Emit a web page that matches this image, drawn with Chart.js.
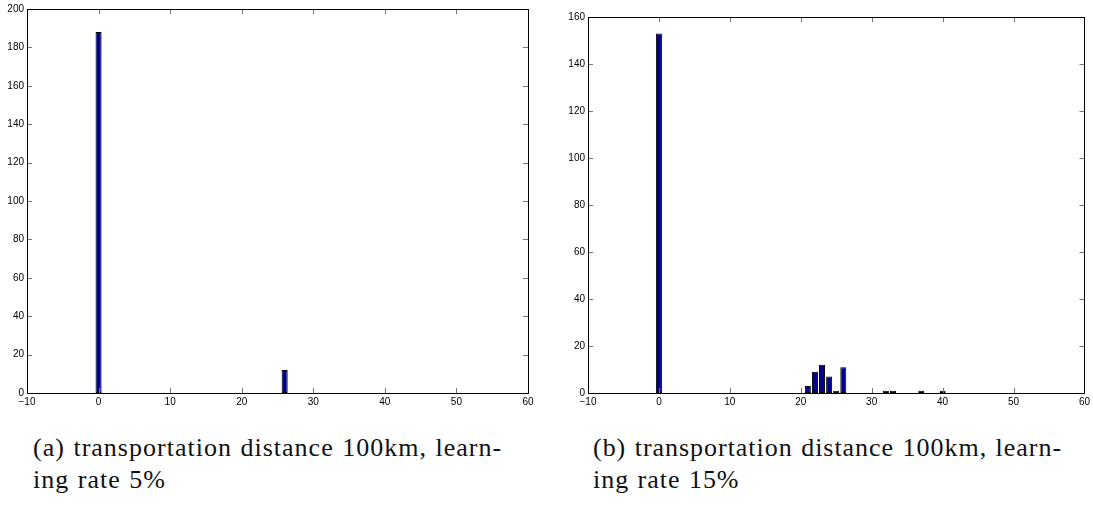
<!DOCTYPE html>
<html lang="en">
<head>
  <meta charset="UTF-8">
  <title>Histogramas</title>
  <script src="https://cdn.jsdelivr.net/npm/chart.js"></script>
  <style>
    body { margin: 0; background: #fff; width: 1093px; height: 505px; overflow: hidden; position: relative; }
    .painel { position: absolute; top: 0; }
    .legenda {
      position: absolute;
      font-family: 'Liberation Serif', serif;
      font-size: 26px;
      line-height: 32px;
      word-spacing: 1px;
      color: #111;
      top: 432px;
      white-space: nowrap;
    }
  </style>
</head>
<body>
  <div class="painel" style="left:0; width:540px; height:412px;">
    <canvas id="histA" width="540" height="412"></canvas>
  </div>
  <div class="painel" style="left:560px; width:533px; height:412px;">
    <canvas id="histB" width="533" height="412"></canvas>
  </div>
  <div class="legenda" style="left:33px;"><span class="l1">(a) transportation distance 100km, learn-</span><br><span>ing rate 5%</span></div>
  <div class="legenda" style="left:593px;"><span class="l1">(b) transportation distance 100km, learn-</span><br><span>ing rate 15%</span></div>

<script>
  // bins 0..48 (centros), contagens
  const bins = [];
  for (let i = 0; i <= 48; i++) bins.push(i);

  const countsA = [188, 0, 0, 0, 0, 0, 0, 0, 0, 0,
                   0, 0, 0, 0, 0, 0, 0, 0, 0, 0,
                   0, 0, 0, 0, 0, 0, 12, 0, 0, 0,
                   0, 0, 0, 0, 0, 0, 0, 0, 0, 0,
                   0, 0, 0, 0, 0, 0, 0, 0, 0];

  const countsB = [153, 0, 0, 0, 0, 0, 0, 0, 0, 0,
                   0, 0, 0, 0, 0, 0, 0, 0, 0, 0,
                   0, 3, 9, 12, 7, 1, 11, 0, 0, 0,
                   0, 0, 1, 1, 0, 0, 0, 1, 0, 0,
                   1, 0, 0, 0, 0, 0, 0, 0, 0];

  const xTicks = [-10, 0, 10, 20, 30, 40, 50, 60];
  const yTicksA = [0, 20, 40, 60, 80, 100, 120, 140, 160, 180, 200];
  const yTicksB = [0, 20, 40, 60, 80, 100, 120, 140, 160];

  // ajusta o espaçamento da legenda para a largura do original (~468px)
  document.querySelectorAll('.legenda').forEach(el => {
    const l1 = el.querySelector('.l1');
    const w = l1.getBoundingClientRect().width;
    const n = l1.textContent.length - 1;
    el.style.letterSpacing = ((468 - w) / n).toFixed(2) + 'px';
  });

  // moldura e ticks para dentro, estilo matlab
  const molduraPlugin = {
    id: 'moldura',
    afterDraw(chart) {
      const ctx = chart.ctx;
      const a = chart.chartArea;
      const xs = chart.scales.x;
      const ys = chart.scales.y;
      const len = 5;
      ctx.save();
      ctx.strokeStyle = '#777';
      ctx.lineWidth = 1;
      ctx.beginPath();
      xs.ticks.forEach(t => {
        const px = Math.round(xs.getPixelForValue(t.value)) + 0.5;
        ctx.moveTo(px, a.bottom); ctx.lineTo(px, a.bottom - len);
        ctx.moveTo(px, a.top); ctx.lineTo(px, a.top + len);
      });
      ys.ticks.forEach(t => {
        const py = Math.round(ys.getPixelForValue(t.value)) + 0.5;
        ctx.moveTo(a.left, py); ctx.lineTo(a.left + len, py);
        ctx.moveTo(a.right, py); ctx.lineTo(a.right - len, py);
      });
      ctx.stroke();
      ctx.strokeStyle = '#000';
      ctx.strokeRect(Math.round(a.left) + 0.5, Math.round(a.top) + 0.5,
                     Math.round(a.right - a.left), Math.round(a.bottom - a.top));
      ctx.restore();
    }
  };

  function criarHistograma(id, counts, yTicks, pad, yWidth) {
    const ctx = document.getElementById(id).getContext('2d');
    return new Chart(ctx, {
      type: 'bar',
      data: {
        datasets: [{
          data: bins.map((b, i) => ({ x: b, y: counts[i] })),
          backgroundColor: '#00008f',
          borderColor: '#000',
          borderWidth: 1,
          borderSkipped: false,
          barPercentage: 0.85,
          categoryPercentage: 1.0
        }]
      },
      options: {
        responsive: false,
        animation: false,
        devicePixelRatio: 1,
        layout: { padding: pad },
        plugins: {
          legend: { display: false },
          tooltip: { enabled: false }
        },
        scales: {
          x: {
            type: 'linear',
            offset: false,
            min: xTicks[0],
            max: xTicks[xTicks.length - 1],
            grid: { display: false, offset: false, drawTicks: false, tickLength: 0 },
            border: { display: false },
            afterFit: s => { s.height = 19; },
            afterBuildTicks: s => { s.ticks = xTicks.map(v => ({ value: v })); },
            ticks: {
              padding: 3,
              autoSkip: false,
              maxRotation: 0,
              color: '#000',
              font: { family: 'Liberation Sans, Arial, sans-serif', size: 10 },
              callback: v => String(v).replace('-', '\u2212')
            }
          },
          y: {
            min: yTicks[0],
            max: yTicks[yTicks.length - 1],
            grid: { display: false, drawTicks: false, tickLength: 0 },
            border: { display: false },
            afterFit: s => { s.width = yWidth; },
            afterBuildTicks: s => { s.ticks = yTicks.map(v => ({ value: v })); },
            ticks: {
              padding: 3,
              autoSkip: false,
              color: '#000',
              font: { family: 'Liberation Sans, Arial, sans-serif', size: 10 }
            }
          }
        }
      },
      plugins: [molduraPlugin]
    });
  }

  criarHistograma('histA', countsA, yTicksA, { left: 0, top: 9, right: 12, bottom: 0 }, 27);
  criarHistograma('histB', countsB, yTicksB, { left: 0, top: 17, right: 6, bottom: 0 }, 28);
</script>
</body>
</html>
